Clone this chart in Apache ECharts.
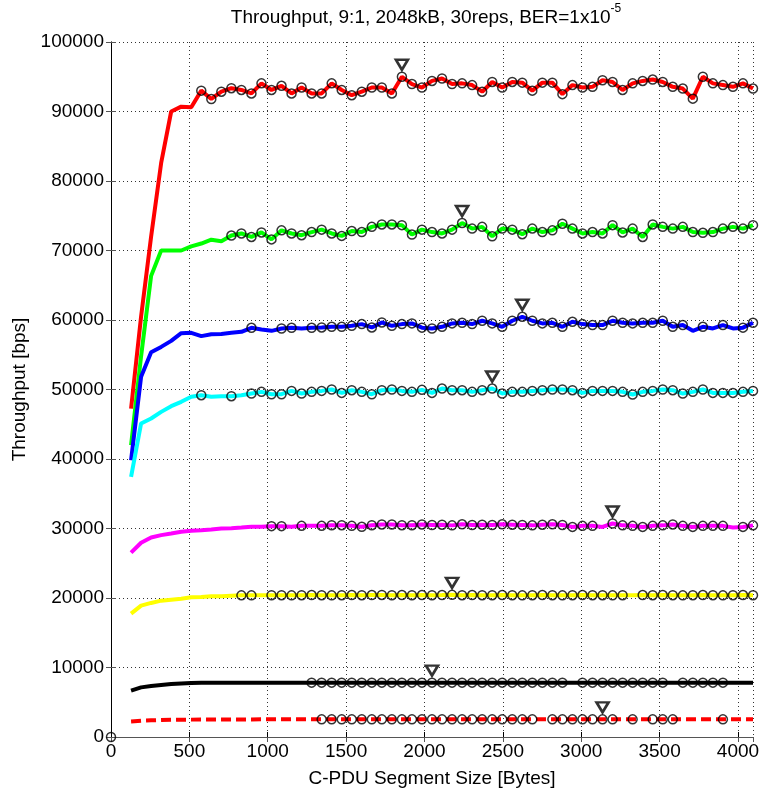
<!DOCTYPE html>
<html><head><meta charset="utf-8">
<script src="https://cdn.jsdelivr.net/npm/echarts/dist/echarts.min.js"></script>
<style>html,body{margin:0;padding:0;background:#fff}#c{width:765px;height:794px}</style>
</head><body><div id="c"></div>
<script>
// ---------- data ----------
const segmentSize = [128,192,256,320,384,448,512,576,640,704,768,832,896,960,1024,1088,1152,1216,1280,1344,1408,1472,1536,1600,1664,1728,1792,1856,1920,1984,2048,2112,2176,2240,2304,2368,2432,2496,2560,2624,2688,2752,2816,2880,2944,3008,3072,3136,3200,3264,3328,3392,3456,3520,3584,3648,3712,3776,3840,3904,3968,4032,4096];

const redValues = [47250,60500,72000,82600,90000,90700,90600,93000,91800,92850,93350,93100,92600,94050,93100,93700,92600,93450,92600,92600,94050,93100,92350,92850,93450,93450,92600,95000,93950,93450,94400,94750,93950,94050,93800,92850,94250,93450,94250,94150,93000,94150,94150,92500,93800,93450,93550,94500,94250,93100,94050,94400,94600,94250,93550,93300,91850,95000,94050,93800,93550,94050,93300];
const greenValues = [42000,54800,66350,70000,70000,70000,70600,71000,71550,71330,72150,72450,71950,72600,71600,72900,72450,72200,72650,73000,72450,72100,72800,72650,73400,73750,73750,73650,72300,73000,72650,72450,73000,73950,73150,73400,72050,73150,73000,72350,73150,72650,72900,73850,73150,72450,72650,72450,73650,72600,73150,71950,73750,73400,73150,73400,72650,72550,72650,73150,73400,73150,73650];
const blueValues = [39830,51820,55350,56130,57000,58100,58150,57680,57960,58000,58150,58300,58880,58640,58440,58780,58880,58780,58880,58930,59020,59020,59160,59410,58930,59650,59160,59410,59510,58900,58780,59020,59510,59600,59410,59890,59510,59020,59890,60460,59890,59510,59600,59020,59740,59410,59270,59270,59890,59600,59510,59600,59600,59890,59020,59270,58440,59020,58780,59270,58780,58900,59600];
const cyanValues = [37420,45110,45830,46780,47600,48230,48950,49180,48950,49040,49040,49180,49420,49660,49320,49320,49800,49420,49660,49800,50000,49510,49900,49660,49320,49900,50000,49800,49660,49950,49510,50140,49900,49900,49660,49900,50140,49420,49660,49660,49800,49900,50000,50000,49900,49510,49800,49800,49800,49660,49280,49660,49800,50000,49900,49420,49660,50000,49510,49510,49510,49660,49800];
const magentaValues = [26525,27950,28715,29050,29285,29525,29670,29760,29860,30000,30050,30140,30240,30240,30340,30340,30240,30380,30380,30380,30480,30480,30380,30240,30480,30580,30580,30480,30480,30580,30500,30550,30450,30600,30500,30550,30500,30600,30550,30500,30450,30550,30600,30500,30230,30380,30380,30230,30720,30450,30380,30230,30380,30450,30580,30380,30230,30380,30380,30380,30150,30230,30450];
const yellowValues = [17760,18900,19290,19620,19760,19900,20100,20140,20240,20240,20330,20380,20380,20380,20400,20400,20380,20400,20420,20400,20380,20400,20420,20400,20420,20440,20400,20420,20400,20420,20400,20420,20450,20400,20420,20400,20400,20420,20400,20380,20400,20420,20400,20380,20400,20420,20400,20400,20380,20400,20380,20420,20400,20420,20400,20380,20400,20420,20400,20380,20400,20420,20400];
const blackValues = [6670,7140,7330,7480,7620,7710,7760,7790,7800,7800,7810,7810,7810,7820,7820,7820,7820,7820,7820,7820,7820,7820,7820,7820,7820,7820,7820,7820,7820,7820,7820,7820,7820,7820,7820,7820,7820,7820,7820,7820,7820,7820,7820,7820,7820,7820,7820,7820,7820,7820,7820,7820,7820,7820,7820,7820,7820,7820,7820,7820,7820,7820,7820];
const redDashValues = [2240,2350,2400,2440,2470,2490,2500,2510,2520,2520,2530,2530,2530,2540,2540,2540,2540,2540,2540,2540,2540,2540,2540,2540,2540,2540,2540,2540,2540,2540,2540,2540,2540,2540,2540,2540,2540,2540,2540,2540,2540,2540,2540,2540,2540,2540,2540,2540,2540,2540,2540,2540,2540,2540,2540,2540,2540,2540,2540,2540,2540,2540,2540];

// circle markers: first marked index and skipped indices; triangle marker index
const circleFrom   = {red:7, green:10, blue:12, cyan:7, magenta:14, yellow:11, black:18, redDash:19};
const circleSkip   = {red:[], green:[], blue:[13,14,17,56,58,60], cyan:[8,9,11], magenta:[16,18,47,60], yellow:[13,50], black:[44,54,60,61,62], redDash:[41,49,51,55,56,57,58,60,61,62]};
const triangleAt   = {red:27, green:33, blue:39, cyan:36, magenta:48, yellow:32, black:30, redDash:47};
const originPoint  = [[0,0]];

const xTicks = [0,500,1000,1500,2000,2500,3000,3500,4000];
const titleText = 'Throughput, 9:1, 2048kB, 30reps, BER=1x10';
const titleSup = '-5';

// ---------- styles ----------
const seriesDefs = [
  {key:'red', values:redValues, color:'#ff0000', dash:'solid'},
  {key:'green', values:greenValues, color:'#00ff00', dash:'solid'},
  {key:'blue', values:blueValues, color:'#0000ff', dash:'solid'},
  {key:'cyan', values:cyanValues, color:'#00ffff', dash:'solid'},
  {key:'magenta', values:magentaValues, color:'#ff00ff', dash:'solid'},
  {key:'yellow', values:yellowValues, color:'#ffff00', dash:'solid'},
  {key:'black', values:blackValues, color:'#000000', dash:'solid'},
  {key:'redDash', values:redDashValues, color:'#ff0000', dash:[10,5]}
];
const FONT = 'Liberation Sans';

const series = [];
seriesDefs.forEach(d => {
  series.push({
    type:'line', data: segmentSize.map((x,i)=>[x,d.values[i]]),
    showSymbol:false, symbol:'none',
    lineStyle:{color:d.color, width:4, type:d.dash, cap:'butt'},
    z:2, silent:true
  });
});
seriesDefs.forEach(d => {
  const pts = [];
  segmentSize.forEach((x,i)=>{
    if (i >= circleFrom[d.key] && circleSkip[d.key].indexOf(i) < 0) pts.push([x,d.values[i]]);
  });
  series.push({
    type:'scatter', data:pts, symbol:'circle', symbolSize:9,
    itemStyle:{color:'rgba(0,0,0,0)', borderColor:'#000', borderWidth:1.5},
    z:3, silent:true
  });
});
series.push({
  type:'scatter', data: seriesDefs.map(d=>[segmentSize[triangleAt[d.key]], d.values[triangleAt[d.key]]]),
  symbol:'path://M0,0L12,0L6,10Z', symbolSize:[12,10], symbolOffset:[0,-12],
  itemStyle:{color:'#fff', borderColor:'#000', borderWidth:2.6}, z:4, silent:true
});
series.push({
  type:'scatter', data: originPoint, symbol:'circle', symbolSize:9, clip:false,
  itemStyle:{color:'rgba(0,0,0,0)', borderColor:'#000', borderWidth:1.5}, z:5, silent:true
});

const chart = echarts.init(document.getElementById('c'), null, {renderer:'canvas'});
chart.setOption({
  animation:false,
  backgroundColor:'#fff',
  grid:{left:111, right:12, top:42, bottom:57, show:false},
  graphic:[{
    type:'text', x:426, y:15, z:10,
    style:{
      text:'{b|'+titleText+'}{s|'+titleSup+'}',
      textAlign:'center', textVerticalAlign:'middle',
      rich:{
        b:{fontFamily:FONT, fontSize:19, fill:'#000', verticalAlign:'bottom', lineHeight:24},
        s:{fontFamily:FONT, fontSize:12, fill:'#000', verticalAlign:'top', lineHeight:24}
      }
    }
  }],
  xAxis:[{
    type:'value', min:0, max:4096, interval:500, position:'bottom',
    axisLine:{show:true, lineStyle:{color:'#000', width:1}},
    axisTick:{show:true, inside:true, length:5, lineStyle:{color:'#000'}},
    axisLabel:{show:true, color:'#000', fontFamily:FONT, fontSize:19, margin:5, showMaxLabel:false,
      formatter: v => xTicks.indexOf(v) >= 0 ? String(v) : ''},
    splitLine:{show:true, lineStyle:{color:'#333', width:1, type:[1,3]}},
    name:'C-PDU Segment Size [Bytes]', nameLocation:'middle', nameGap:32,
    nameTextStyle:{color:'#000', fontFamily:FONT, fontSize:19}
  },{
    type:'value', min:0, max:4096, interval:500, position:'top',
    axisLine:{show:true, lineStyle:{color:'#555', width:1}},
    axisTick:{show:true, inside:true, length:5, lineStyle:{color:'#555'}},
    axisLabel:{show:false}, splitLine:{show:false}
  }],
  yAxis:[{
    type:'value', min:0, max:100000, interval:10000, position:'left',
    axisLine:{show:true, lineStyle:{color:'#555', width:1}},
    axisTick:{show:true, inside:true, length:5, lineStyle:{color:'#555'}},
    axisLabel:{show:true, color:'#000', fontFamily:FONT, fontSize:19, margin:7, formatter: v => String(v)},
    splitLine:{show:true, lineStyle:{color:'#333', width:1, type:[1,3]}},
    name:'Throughput [bps]', nameLocation:'middle', nameGap:82,
    nameTextStyle:{color:'#000', fontFamily:FONT, fontSize:19}
  },{
    type:'value', min:0, max:100000, interval:10000, position:'right',
    axisLine:{show:true, lineStyle:{color:'#000', width:1}},
    axisTick:{show:true, inside:true, length:5, lineStyle:{color:'#555'}},
    axisLabel:{show:false}, splitLine:{show:false}
  }],
  series: series
});
</script></body></html>
